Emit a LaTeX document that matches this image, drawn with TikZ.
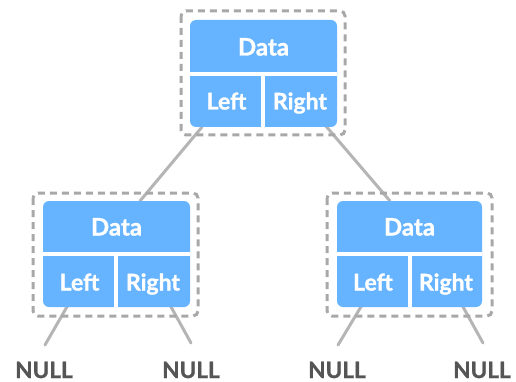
\documentclass[tikz,border=0pt]{standalone}
\usepackage{fontspec}
\setmainfont{Lato}[BoldFeatures={FakeBold=1.2}]
\definecolor{nodeblue}{HTML}{66B3FF}
\definecolor{dashgray}{HTML}{A8A8A8}
\definecolor{linegray}{HTML}{B5B5B5}
\definecolor{nullgray}{HTML}{555555}
\begin{document}
\begin{tikzpicture}[x=1pt,y=-1pt,
  blockbox/.style={fill=nodeblue, rounded corners=6pt},
  dashbox/.style={draw=dashgray, line width=3pt, dash pattern=on 7pt off 5pt, rounded corners=5pt},
  divider/.style={draw=white, line width=4pt},
  conn/.style={draw=linegray, line width=3pt, line cap=round},
  datatxt/.style={font=\bfseries\fontsize{24}{28}\selectfont, text=white, anchor=base, inner sep=0pt},
  celltxt/.style={font=\bfseries\fontsize{23}{27}\selectfont, text=white, anchor=base, inner sep=0pt},
  nulltxt/.style={font=\bfseries\fontsize{22.5}{26}\selectfont, text=nullgray, anchor=base, inner sep=0pt}
]
\useasboundingbox (0,0) rectangle (516,382);
% connector end points
\coordinate (tl) at (202,127);
\coordinate (lt) at (140,201);
\coordinate (tr) at (325,125);
\coordinate (rt) at (390,201);
\coordinate (l1) at (68,305);
\coordinate (l2) at (170,305);
\coordinate (r1) at (362,305);
\coordinate (r2) at (462,305);
% NULL labels
\node[nulltxt] (n1) at (44,378) {NULL};
\node[nulltxt] (n2) at (191,378) {NULL};
\node[nulltxt] (n3) at (337,378) {NULL};
\node[nulltxt] (n4) at (482,378) {NULL};
\coordinate (e1) at (45,345);
\coordinate (e2) at (191,343);
\coordinate (e3) at (338,345);
\coordinate (e4) at (483,343);
% connectors
\draw[conn] (tl) -- (lt);
\draw[conn] (tr) -- (rt);
\draw[conn] (l1) -- (e1);
\draw[conn] (l2) -- (e2);
\draw[conn] (r1) -- (e3);
\draw[conn] (r2) -- (e4);
% top block
\draw[dashbox] (181,11) rectangle (345,135);
\fill[blockbox] (190,20) rectangle (337,127);
\draw[divider] (190,74) -- (337,74);
\draw[divider] (263,74) -- (263,127);
\node[datatxt] (td) at (263.5,55.5) {Data};
\node[celltxt] (tlft) at (226.5,109.5) {Left};
\node[celltxt] (trgt) at (300,109.5) {Right};
% left block
\draw[dashbox] (33,193) rectangle (198,316);
\fill[blockbox] (43,201) rectangle (190,307);
\draw[divider] (43,254) -- (190,254);
\draw[divider] (116,254) -- (116,307);
\node[datatxt] (ld) at (116.5,235.5) {Data};
\node[celltxt] (llft) at (79.5,290.5) {Left};
\node[celltxt] (lrgt) at (153,290.5) {Right};
% right block
\draw[dashbox] (327,193) rectangle (492,316);
\fill[blockbox] (337,201) rectangle (482,307);
\draw[divider] (337,254) -- (482,254);
\draw[divider] (409.5,254) -- (409.5,307);
\node[datatxt] (rd) at (409.5,235.5) {Data};
\node[celltxt] (rlft) at (373,290.5) {Left};
\node[celltxt] (rrgt) at (446,290.5) {Right};
\end{tikzpicture}
\end{document}
